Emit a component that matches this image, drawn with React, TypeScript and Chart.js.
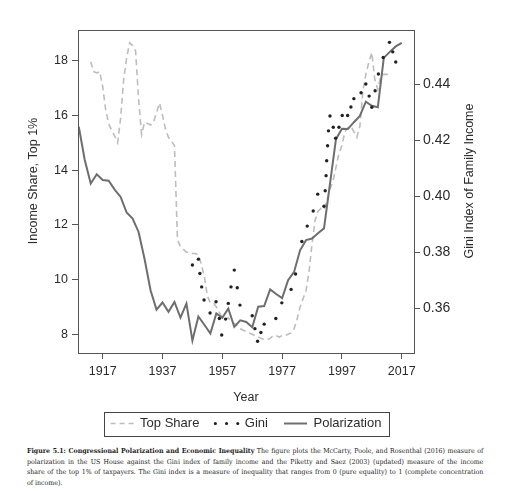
import { useEffect, useRef } from "react";
import { Chart, registerables } from "chart.js";

Chart.register(...registerables);

// ---- data ----
const xTicks = [1917, 1937, 1957, 1977, 1997, 2017];
const shareTicks = [8, 10, 12, 14, 16, 18];
const giniTicks = [0.36, 0.38, 0.4, 0.42, 0.44];

// Piketty & Saez top 1% income share (left axis)
const shareYears = [
  1913, 1914, 1915, 1916, 1917, 1918, 1919, 1920, 1921, 1922,
  1923, 1924, 1925, 1926, 1927, 1928, 1929, 1930, 1931, 1932,
  1933, 1934, 1935, 1936, 1937, 1938, 1939, 1940, 1941, 1942,
  1943, 1944, 1945, 1946, 1947, 1948, 1949, 1950, 1951, 1952,
  1953, 1954, 1955, 1956, 1957, 1958, 1959, 1960, 1961, 1962,
  1963, 1964, 1965, 1966, 1967, 1968, 1969, 1970, 1971, 1972,
  1973, 1974, 1975, 1976, 1977, 1978, 1979, 1980, 1981, 1982,
  1983, 1984, 1985, 1986, 1987, 1988, 1989, 1990, 1991, 1992,
  1993, 1994, 1995, 1996, 1997, 1998, 1999, 2000, 2001, 2002,
  2003, 2004, 2005, 2006, 2007, 2008, 2009, 2010, 2011, 2012,
  2013,
];
const shareValues = [
  17.96, 17.6, 17.55, 17.6, 17.05, 16.2, 15.7, 15.45, 15.25, 15.0,
  15.9, 17.3, 18.1, 18.65, 18.55, 18.35, 16.6, 15.3, 15.75, 15.7,
  15.65, 15.75, 16.1, 16.45, 16.0, 15.5, 15.2, 15.05, 14.9, 11.45,
  11.2, 11.1, 11.0, 11.0, 10.95, 10.95, 10.9, 10.55, 10.1, 9.4,
  9.15, 9.15, 9.0, 8.8, 8.6, 8.55, 8.6, 8.45, 8.4, 8.3,
  8.2, 8.15, 8.1, 8.05, 8.0, 7.95, 7.9, 7.85, 7.8, 7.8,
  7.85, 7.95, 7.95, 7.9, 7.95, 7.95, 8.0, 8.05, 8.2, 8.55,
  9.0, 9.3, 9.6, 10.3, 11.3, 12.15, 12.5, 12.6, 12.55, 12.9,
  13.3, 13.6, 14.1, 14.6, 14.9, 15.4, 15.55, 15.6, 15.4, 15.2,
  15.6, 16.9, 17.5, 17.95, 18.3, 17.3, 16.95, 17.45, 17.5, 17.5,
  17.5,
];

// House polarization, drawn against the left axis
const polarYears = [
  1909, 1911, 1913, 1915, 1917, 1919, 1921, 1923, 1925, 1927,
  1929, 1931, 1933, 1935, 1937, 1939, 1941, 1943, 1945, 1947,
  1949, 1951, 1953, 1955, 1957, 1959, 1961, 1963, 1965, 1967,
  1969, 1971, 1973, 1975, 1977, 1979, 1981, 1983, 1985, 1987,
  1989, 1991, 1993, 1995, 1997, 1999, 2001, 2003, 2005, 2007,
  2009, 2011, 2013, 2015, 2017,
];
const polarValues = [
  15.59, 14.37, 13.51, 13.85, 13.64, 13.61, 13.29, 13.02, 12.45, 12.23,
  11.74, 10.75, 9.61, 8.9, 9.16, 8.82, 9.18, 8.61, 9.12, 7.77,
  8.65, 8.35, 8.03, 8.76, 8.6, 8.94, 8.27, 8.51, 8.45, 8.26,
  9.01, 9.03, 9.64, 9.47, 9.32, 9.98, 10.28, 11.07, 11.44, 11.5,
  11.69, 11.87, 13.5, 15.13, 15.51, 15.5, 15.75, 15.98, 16.5, 16.35,
  16.3, 18.1, 18.32, 18.52, 18.65,
];

// Gini index of family income (right axis)
const giniYears = [
  1947, 1949, 1949.5, 1950.1, 1950.9, 1952.9, 1954.9, 1956, 1956.8, 1958.1,
  1959, 1959.9, 1961, 1962, 1962.9, 1967, 1967.9, 1968.8, 1969.9, 1971,
  1974.9, 1976.9, 1980, 1981.5, 1983.6, 1985.4, 1987.4, 1988.9, 1991, 1991.4,
  1991.7, 1991.9, 1992.2, 1992.5, 1993, 1994.1, 1994.9, 1996, 1997.1, 1998.9,
  2000, 2001, 2003.4, 2005, 2006.1, 2007, 2008.1, 2009.2, 2010.8, 2012.9,
  2014, 2015,
];
const giniValues = [
  0.3754, 0.3775, 0.3724, 0.3676, 0.3629, 0.3583, 0.3623, 0.3563, 0.3504, 0.3561,
  0.3617, 0.3676, 0.3736, 0.3673, 0.3611, 0.3573, 0.3527, 0.3482, 0.3513, 0.3543,
  0.3563, 0.3619, 0.3667, 0.3722, 0.3838, 0.3893, 0.3947, 0.4007, 0.3964, 0.4019,
  0.4073, 0.4126, 0.418, 0.4233, 0.4286, 0.4246, 0.4207, 0.4246, 0.4288, 0.4288,
  0.4318, 0.4348, 0.4369, 0.44, 0.4357, 0.4317, 0.4376, 0.4436, 0.4495, 0.4549,
  0.4515, 0.4479,
];

const X_TITLE = "Year";
const Y_TITLE = "Income Share, Top 1%";
const Y1_TITLE = "Gini Index of Family Income";

const SANS = "'Liberation Sans', Arial, sans-serif";
const TEXT_COLOR = "#2b2b2b";
const FRAME_COLOR = "#555555";
const SHARE_COLOR = "#bdbdbd";
const POLAR_COLOR = "#6e6e6e";
const GINI_COLOR = "#222222";

const toPoints = (xs: number[], ys: number[]) => xs.map((x, i) => ({ x, y: ys[i] }));

const decorations = {
  id: "decorations",
  afterDraw(chart: any) {
    const { ctx, chartArea } = chart;
    const { left, top, right, bottom } = chartArea;
    ctx.save();
    ctx.strokeStyle = FRAME_COLOR;
    ctx.lineWidth = 1;
    ctx.strokeRect(Math.round(left) + 0.5, Math.round(top) + 0.5, Math.round(right - left), Math.round(bottom - top));

    ctx.fillStyle = TEXT_COLOR;
    ctx.font = `12.5px ${SANS}`;
    ctx.textAlign = "center";
    ctx.textBaseline = "middle";
    ctx.fillText(X_TITLE, (left + right) / 2, 398);
    const sideTitles: [number, string][] = [
      [34, Y_TITLE],
      [470, Y1_TITLE],
    ];
    sideTitles.forEach(([x, t]) => {
      ctx.save();
      ctx.translate(x, 181);
      ctx.rotate(-Math.PI / 2);
      ctx.fillText(t, 0, 0);
      ctx.restore();
    });

    const boxes = chart.legend?.legendHitBoxes ?? [];
    if (boxes.length) {
      const l = Math.min(...boxes.map((b: any) => b.left)) - 7;
      const r = Math.max(...boxes.map((b: any) => b.left + b.width)) + 7;
      const t = boxes[0].top - 5.5;
      const h = boxes[0].height + 11;
      ctx.strokeStyle = "#444444";
      ctx.strokeRect(Math.round(l) + 0.5, Math.round(t) + 0.5, Math.round(r - l), Math.round(h));
    }
    ctx.restore();
  },
};

function InequalityChart() {
  const canvasRef = useRef<HTMLCanvasElement | null>(null);

  useEffect(() => {
    if (!canvasRef.current) return;

    const chart = new Chart(canvasRef.current, {
      type: "line",
      data: {
        datasets: [
          {
            label: "Top Share",
            data: toPoints(shareYears, shareValues),
            yAxisID: "y",
            borderColor: SHARE_COLOR,
            borderWidth: 1.6,
            borderDash: [6, 4],
            pointRadius: 0,
            tension: 0,
            order: 2,
          },
          {
            label: "Gini",
            data: toPoints(giniYears, giniValues),
            yAxisID: "y1",
            showLine: false,
            pointRadius: 1.7,
            pointBackgroundColor: GINI_COLOR,
            pointBorderWidth: 0,
            borderColor: GINI_COLOR,
            order: 0,
          },
          {
            label: "Polarization",
            data: toPoints(polarYears, polarValues),
            yAxisID: "y",
            borderColor: POLAR_COLOR,
            borderWidth: 2,
            pointRadius: 0,
            tension: 0,
            order: 1,
          },
        ],
      },
      options: {
        animation: false,
        responsive: true,
        maintainAspectRatio: false,
        layout: { padding: { top: 30, left: 0, right: 0, bottom: 0 } },
        plugins: {
          tooltip: { enabled: false },
          legend: {
            position: "bottom",
            fullSize: false,
            labels: {
              usePointStyle: true,
              pointStyleWidth: 23,
              padding: 16,
              color: TEXT_COLOR,
              font: { size: 13, family: SANS },
              generateLabels: () => [
                {
                  text: "Top Share",
                  pointStyle: "line",
                  strokeStyle: SHARE_COLOR,
                  fillStyle: "transparent",
                  lineWidth: 1.6,
                  lineDash: [5, 4],
                  fontColor: TEXT_COLOR,
                  datasetIndex: 0,
                },
                {
                  text: "Gini",
                  pointStyle: "line",
                  strokeStyle: GINI_COLOR,
                  fillStyle: "transparent",
                  lineWidth: 3.2,
                  lineDash: [0, 11.2],
                  lineCap: "round",
                  fontColor: TEXT_COLOR,
                  datasetIndex: 1,
                },
                {
                  text: "Polarization",
                  pointStyle: "line",
                  strokeStyle: POLAR_COLOR,
                  fillStyle: "transparent",
                  lineWidth: 2,
                  fontColor: TEXT_COLOR,
                  datasetIndex: 2,
                },
              ],
            },
          },
        },
        scales: {
          x: {
            type: "linear",
            min: 1908.74,
            max: 2021.1,
            afterBuildTicks: (scale: any) => {
              scale.ticks = xTicks.map((value) => ({ value }));
            },
            afterFit: (scale: any) => {
              scale.height = 48;
            },
            border: { display: false },
            grid: { drawOnChartArea: false, drawTicks: true, tickLength: 6, color: FRAME_COLOR },
            ticks: {
              padding: 5.5,
              color: TEXT_COLOR,
              font: { size: 12.5, family: SANS },
              maxRotation: 0,
              callback: (v: any) => String(v),
            },
          },
          y: {
            position: "left",
            min: 7.316,
            max: 19.12,
            afterBuildTicks: (scale: any) => {
              scale.ticks = shareTicks.map((value) => ({ value }));
            },
            afterFit: (scale: any) => {
              scale.width = 78;
            },
            border: { display: false },
            grid: { drawOnChartArea: false, drawTicks: true, tickLength: 6, color: FRAME_COLOR },
            ticks: {
              padding: 4,
              color: TEXT_COLOR,
              font: { size: 12.5, family: SANS },
              callback: (v: any) => String(v),
            },
          },
          y1: {
            position: "right",
            min: 0.344,
            max: 0.4593,
            afterBuildTicks: (scale: any) => {
              scale.ticks = giniTicks.map((value) => ({ value }));
            },
            afterFit: (scale: any) => {
              scale.width = 92;
            },
            border: { display: false },
            grid: { drawOnChartArea: false, drawTicks: true, tickLength: 6, color: FRAME_COLOR },
            ticks: {
              padding: 3,
              color: TEXT_COLOR,
              font: { size: 14, family: SANS },
              callback: (v: any) => Number(v).toFixed(2),
            },
          },
        },
      },
      plugins: [decorations],
    });

    return () => chart.destroy();
  }, []);

  return <canvas ref={canvasRef} />;
}

const captionLine: React.CSSProperties = {
  whiteSpace: "nowrap",
  textAlign: "justify",
  textAlignLast: "justify",
};

export default function App() {
  return (
    <div style={{ position: "absolute", left: 0, top: 0, width: 506, height: 491, background: "#fff", overflow: "hidden" }}>
      <div style={{ position: "relative", width: 506, height: 440 }}>
        <InequalityChart />
      </div>
      <div
        style={{
          position: "absolute",
          left: 27,
          top: 446,
          width: 496,
          transform: "scaleX(0.92)",
          transformOrigin: "0 0",
          fontFamily: "'DejaVu Serif', serif",
          fontSize: 6.8,
          lineHeight: "10.7px",
          color: "#222",
        }}
      >
        <div style={captionLine}>
          <b>Figure 5.1: Congressional Polarization and Economic Inequality</b> The figure plots the McCarty, Poole, and
          Rosenthal (2016) measure of
        </div>
        <div style={captionLine}>
          polarization in the US House against the Gini index of family income and the Piketty and Saez (2003) (updated)
          measure of the income
        </div>
        <div style={captionLine}>
          share of the top 1% of taxpayers. The Gini index is a measure of inequality that ranges from 0 (pure equality) to 1
          (complete concentration
        </div>
        <div>of income).</div>
      </div>
    </div>
  );
}
